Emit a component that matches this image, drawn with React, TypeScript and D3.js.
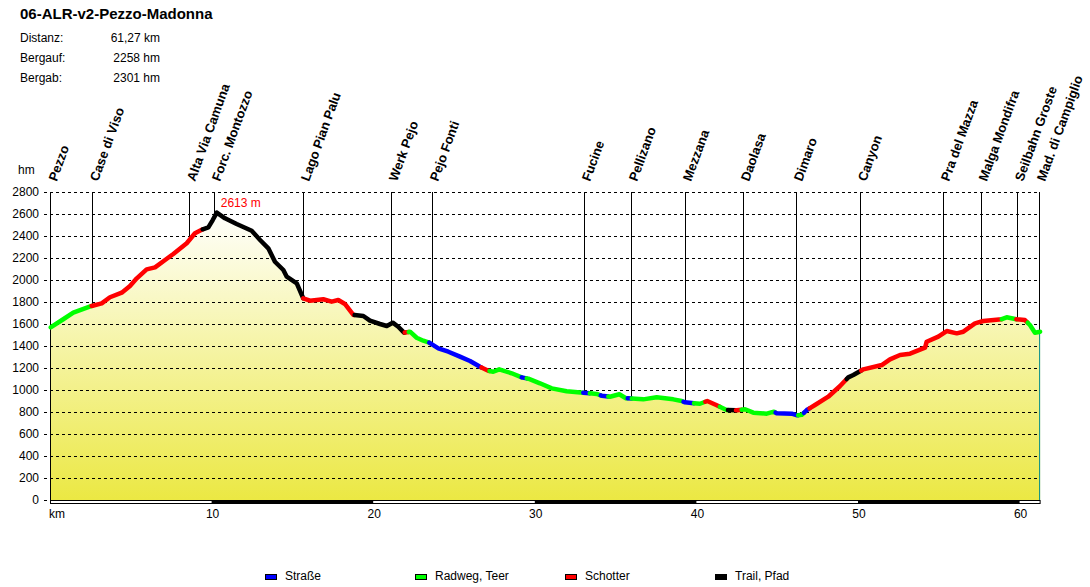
import React from "react";
import * as d3 from "d3";

const title = "06-ALR-v2-Pezzo-Madonna";
const statLabels = ["Distanz:", "Bergauf:", "Bergab:"];
const statValues = ["61,27 km", "2258 hm", "2301 hm"];

const kms = [0.04,0.82,1.44,2.58,3.2,3.71,4.44,4.95,5.37,5.98,6.5,7.12,7.63,8.46,8.97,9.45,9.8,10.07,10.32,10.83,11.55,12.48,13,13.51,13.92,14.44,14.65,15.27,15.67,16.09,16.91,17.43,17.84,18.25,18.77,19.39,19.8,20.42,20.84,21.21,21.55,21.91,22.28,22.69,23.1,23.47,24.03,24.65,25.37,25.99,26.61,27.12,27.43,27.8,28.57,29.19,29.6,30.32,31.05,31.97,33,33.83,34.14,34.65,35.23,35.64,36.71,37.54,38.57,39.09,39.29,40.22,40.67,41.26,41.87,42.49,43.01,43.52,44.35,44.8,44.97,45.9,46.24,46.52,46.83,47.34,48.16,48.89,49.4,49.71,50.33,51.47,51.98,52.6,53.22,54.15,54.25,54.97,55.49,56.11,56.52,57.24,57.75,58.89,59.2,59.82,60.33,60.64,60.95,61.27];
const elevations = [1570,1643,1703,1764,1788,1843,1885,1945,2015,2097,2115,2182,2236,2334,2425,2461,2479,2545,2613,2561,2509,2448,2364,2288,2166,2091,2030,1970,1834,1812,1825,1803,1818,1782,1682,1673,1630,1600,1582,1612,1575,1521,1530,1475,1448,1430,1379,1348,1303,1264,1212,1175,1166,1188,1152,1115,1103,1061,1015,988,975,964,948,939,961,925,915,934,915,900,888,875,900,861,818,815,825,794,785,803,788,785,770,775,818,864,939,1036,1115,1136,1188,1227,1279,1318,1330,1385,1439,1485,1536,1515,1530,1606,1627,1643,1661,1643,1636,1591,1521,1530];

const surfaceNames = ["Straße", "Radweg, Teer", "Schotter", "Trail, Pfad"];
const surfaceColors = ["#0000ff", "#00ff00", "#ff0000", "#000000"];
const surfaceEnds = [2.58,9.45,15.67,18.85,21.95,22.2,23.47,26.7,27.2,29.19,29.5,33,33.4,34.08,34.55,35.75,36,39.2,39.85,40.55,41.45,41.95,42.45,42.8,44.9,46.3,46.65,47,49.3,50.2,58.9,59.8,60.5,61.27];
const surfaceKinds = [1,2,3,2,3,2,1,0,2,1,0,1,0,1,0,1,0,1,0,1,2,1,3,2,1,0,1,0,2,3,2,1,2,1];

const waypointNames = ["Pezzo","Case di Viso","Alta Via Camuna","Forc. Montozzo","Lago Pian Palu","Werk Pejo","Pejo Fonti","Fucine","Pellizano","Mezzana","Daolasa","Dimaro","Canyon","Pra del Mazza","Malga Mondifra","Seilbahn Groste","Mad. di Campiglio"];
const waypointKms = [0.04,2.6,8.6,10.15,15.66,21.1,23.64,33.05,35.95,39.3,42.88,46.16,50.12,55.26,57.6,59.84,61.2];

const elevationTicks = [0,200,400,600,800,1000,1200,1400,1600,1800,2000,2200,2400,2600,2800];
const kmTicks = [10,20,30,40,50,60];
const kmBands = [[10,20],[30,40],[50,60]];
const totalKm = 61.27;
const peakLabel = "2613 m";
const peakKm = 10.32;
const peakElevation = 2613;

const FONT = "'Liberation Sans', Arial, sans-serif";

export default function App() {
  const x = d3.scaleLinear().domain([0, 60]).range([50, 1019.6]);
  const y = d3.scaleLinear().domain([0, 2800]).range([500, 192]);
  const elevAt = d3.scaleLinear().domain(kms).range(elevations).clamp(true);

  const area = d3.area<number>().x((_, i) => x(kms[i])).y0(y(0)).y1((_, i) => y(elevations[i]))(kms) as string;
  const line = d3.line<[number, number]>().x((d) => x(d[0])).y((d) => y(d[1]));

  const segments = surfaceEnds.map((end, i) => {
    const start = i === 0 ? kms[0] : surfaceEnds[i - 1];
    const inner = kms.map((k, j) => [k, elevations[j]] as [number, number]).filter((p) => p[0] > start && p[0] < end);
    return { kind: surfaceKinds[i], d: line([[start, elevAt(start)], ...inner, [end, elevAt(end)]]) as string };
  });

  return (
    <svg width={1090} height={587} style={{ position: "absolute", left: 0, top: 0, display: "block", background: "#fff" }} fontFamily={FONT} fontSize={12} fill="#000">
      <defs>
        <linearGradient id="fillGrad" gradientUnits="userSpaceOnUse" x1={0} x2={0} y1={y(2650)} y2={y(0)}>
          <stop offset="0" stopColor="#ffffff" />
          <stop offset="1" stopColor="#ebe843" />
        </linearGradient>
      </defs>

      <text x={20} y={19} fontSize={15} fontWeight="bold">{title}</text>
      {statLabels.map((s, i) => (
        <g key={s}>
          <text x={20} y={42 + i * 20}>{s}</text>
          <text x={160} y={42 + i * 20} textAnchor="end">{statValues[i]}</text>
        </g>
      ))}

      <path d={area} fill="url(#fillGrad)" />
      <line x1={x(totalKm) - 0.5} x2={x(totalKm) - 0.5} y1={y(elevAt(totalKm))} y2={y(0)} stroke="#008c8c" strokeWidth={1} />

      {elevationTicks.map((t) => (
        <g key={t}>
          <line x1={44} x2={1040} y1={y(t) + 0.5} y2={y(t) + 0.5} stroke="#000" strokeDasharray="3 3" />
          <text x={39} y={y(t) + 4} textAnchor="end">{t}</text>
        </g>
      ))}
      <text x={18} y={174}>hm</text>
      <line x1={50.5} x2={50.5} y1={y(2800)} y2={y(0) + 3} stroke="#000" />

      {waypointKms.slice(1).map((k) => (
        <line key={k} x1={Math.round(x(k)) + 0.5} x2={Math.round(x(k)) + 0.5} y1={y(2800)} y2={y(elevAt(k))} stroke="#000" />
      ))}
      {waypointNames.map((n, i) => (
        <text key={n} transform={`translate(${x(waypointKms[i]) + 6},182) rotate(-70)`} fontSize={13} fontWeight="bold" stroke="none">{n}</text>
      ))}

      {segments.map((s, i) => (
        <path key={i} d={s.d} fill="none" stroke={surfaceColors[s.kind]} strokeWidth={4.5} strokeLinejoin="round" strokeLinecap="round" />
      ))}

      <text x={x(peakKm) + 4} y={207} fill="#ff0000">{peakLabel}</text>

      <rect x={50.5} y={500.5} width={x(totalKm) - 50.5} height={3} fill="#fff" stroke="#000" />
      {kmBands.map((b) => (
        <rect key={b[0]} x={x(b[0])} y={500} width={x(b[1]) - x(b[0])} height={4} fill="#000" />
      ))}
      <text x={49} y={518}>km</text>
      {kmTicks.map((t) => (
        <text key={t} x={x(t) + 1} y={518} textAnchor="middle">{t}</text>
      ))}

      {surfaceNames.map((n, i) => (
        <g key={n}>
          <rect x={265.5 + i * 150} y={574.5} width={11} height={5} fill={surfaceColors[i]} stroke="#000" strokeWidth={1} />
          <text x={285 + i * 150} y={580}>{n}</text>
        </g>
      ))}
    </svg>
  );
}
